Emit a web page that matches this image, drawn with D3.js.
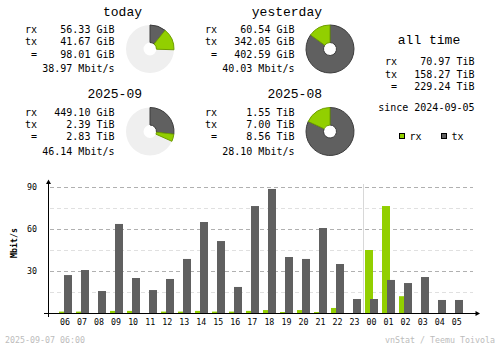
<!DOCTYPE html>
<html><head><meta charset="utf-8">
<script src="https://cdn.jsdelivr.net/npm/d3@7"></script>
<style>
html,body{margin:0;padding:0;background:#fff;}
svg{display:block;}
text{font-family:"DejaVu Sans Mono","Liberation Mono",monospace;}
text.title{font-family:"Liberation Mono","DejaVu Sans Mono",monospace;}
</style></head>
<body>
<svg id="chart" width="500" height="348"></svg>
<script>
// ---- data ----
const periods = ["today", "yesterday", "2025-09", "2025-08"];
const rxText = ["56.33 GiB", "60.54 GiB", "449.10 GiB", "1.55 TiB"];
const txText = ["41.67 GiB", "342.05 GiB", "2.39 TiB", "7.00 TiB"];
const totalText = ["98.01 GiB", "402.59 GiB", "2.83 TiB", "8.56 TiB"];
const rateText = ["38.97 Mbit/s", "40.03 Mbit/s", "46.14 Mbit/s", "28.10 Mbit/s"];
const rxGiB = [56.33, 60.54, 449.10, 1587.2];
const txGiB = [41.67, 342.05, 2447.36, 7168.0];
const pieFill = [0.255, 1, 0.317, 1];

const allTimeRx = "70.97 TiB";
const allTimeTx = "158.27 TiB";
const allTimeTotal = "229.24 TiB";
const sinceText = "since 2024-09-05";

const hours = ["06","07","08","09","10","11","12","13","14","15","16","17","18","19","20","21","22","23","00","01","02","03","04","05"];
const rxRate = [1, 1, 0, 1.5, 1.5, 0, 1, 1, 1.5, 1, 1, 1.5, 2.1, 0.7, 2.1, 0.7, 3.6, 0, 45, 76.4, 12, 0, 0, 0];
const txRate = [27.1, 30.7, 15.7, 63.6, 25, 16.4, 24.3, 38.6, 65, 51.4, 18.6, 76.4, 88.6, 40, 38.6, 60.7, 35, 10, 10, 23.6, 21.4, 25.7, 9.3, 9.3];
const yTicks = [30, 60, 90];
const yMinor = [15, 45, 75];
const footerLeft = "2025-09-07 06:00";
const footerRight = "vnStat / Teemu Toivola";

// ---- styles ----
const RX = "#92cf00", RXD = "#6f9e00", TX = "#606060", TXD = "#3c3c3c", PIEBG = "#efefef";

const svg = d3.select("#chart");

// ---- summary blocks ----
const blocks = [
  {x: 0, y: 0}, {x: 180, y: 0}, {x: 0, y: 82.5}, {x: 180, y: 82.5}
];
const pieCenters = [[150, 49], [330, 49], [150, 131.5], [330, 131.5]];
const arcGen = d3.arc().innerRadius(6.5).outerRadius(24);

periods.forEach((p, i) => {
  const b = blocks[i];
  const g = svg.append("g").attr("transform", `translate(${b.x},${b.y})`);
  g.append("text").attr("class", "title").attr("x", 142).attr("y", 15.5).attr("text-anchor", "end")
    .attr("font-size", 13).attr("fill", "#000").text(p);
  const rows = [["rx", rxText[i], 33], ["tx", txText[i], 45], ["=", totalText[i], 57.5]];
  rows.forEach(r => {
    g.append("text").attr("x", r[0] === "=" ? 31 : 25).attr("y", r[2]).attr("font-size", 10).text(r[0]);
    g.append("text").attr("x", 114.5).attr("y", r[2]).attr("text-anchor", "end").attr("font-size", 10).text(r[1]);
  });
  g.append("text").attr("x", 114.5).attr("y", 72).attr("text-anchor", "end").attr("font-size", 10).text(rateText[i]);

  // pie
  const [cx, cy] = pieCenters[i];
  const pg = svg.append("g").attr("transform", `translate(${cx},${cy})`);
  const fill = pieFill[i];
  if (fill < 1) {
    pg.append("path").attr("d", arcGen({startAngle: 0, endAngle: 2 * Math.PI})).attr("fill", PIEBG);
  }
  const tot = rxGiB[i] + txGiB[i];
  const full = 2 * Math.PI * fill;
  const txEnd = full * txGiB[i] / tot;
  pg.append("path").attr("d", arcGen({startAngle: 0, endAngle: txEnd}))
    .attr("fill", TX).attr("stroke", TXD).attr("stroke-width", 1);
  pg.append("path").attr("d", arcGen({startAngle: txEnd, endAngle: full}))
    .attr("fill", RX).attr("stroke", RXD).attr("stroke-width", 1);
});

// ---- all time ----
svg.append("text").attr("class", "title").attr("x", 429).attr("y", 43.5).attr("text-anchor", "middle").attr("font-size", 13).text("all time");
[["rx", allTimeRx, 65], ["tx", allTimeTx, 77.5], ["=", allTimeTotal, 90]].forEach(r => {
  svg.append("text").attr("x", r[0] === "=" ? 391 : 385).attr("y", r[2]).attr("font-size", 10).text(r[0]);
  svg.append("text").attr("x", 474.5).attr("y", r[2]).attr("text-anchor", "end").attr("font-size", 10).text(r[1]);
});
svg.append("text").attr("x", 474.5).attr("y", 111).attr("text-anchor", "end").attr("font-size", 10).text(sinceText);

// legend
const legend = [["rx", RX, 399], ["tx", TX, 441]];
legend.forEach(l => {
  svg.append("rect").attr("x", l[2] + 0.5).attr("y", 133.5).attr("width", 5).attr("height", 5)
    .attr("fill", l[1]).attr("stroke", "#000").attr("stroke-width", 1);
  svg.append("text").attr("x", l[2] + 10.5).attr("y", 139.5).attr("font-size", 10).text(l[0]);
});

// ---- hourly bar chart ----
const x = d3.scaleBand().domain(hours).range([56.5, 56.5 + 24 * 17.03]).paddingInner(0).paddingOuter(0);
const y = d3.scaleLinear().domain([0, 90]).range([313, 187]);

const gridG = svg.append("g");
yMinor.forEach(v => {
  gridG.append("line").attr("x1", 50).attr("x2", 473).attr("y1", Math.round(y(v)) + 0.5).attr("y2", Math.round(y(v)) + 0.5)
    .attr("stroke", "#e0e0e0").attr("stroke-dasharray", "4,3");
});
yTicks.forEach(v => {
  gridG.append("line").attr("x1", 50).attr("x2", 473).attr("y1", Math.round(y(v)) + 0.5).attr("y2", Math.round(y(v)) + 0.5)
    .attr("stroke", "#b0b0b0").attr("stroke-dasharray", "4,3");
});

// separator between days
svg.append("line").attr("x1", Math.round(x("00")) + 0.5).attr("x2", Math.round(x("00")) + 0.5)
  .attr("y1", 184).attr("y2", 313).attr("stroke", "#d8d8d8");

// bars
svg.append("g").selectAll("rect").data(hours).join("rect")
  .attr("x", d => Math.round(x(d) + 2)).attr("width", 8)
  .attr("y", (d, i) => y(rxRate[i])).attr("height", (d, i) => y(0) - y(rxRate[i]))
  .attr("fill", RX);
svg.append("g").selectAll("rect").data(hours).join("rect")
  .attr("x", d => Math.round(x(d) + 7)).attr("width", 8)
  .attr("y", (d, i) => y(txRate[i])).attr("height", (d, i) => y(0) - y(txRate[i]))
  .attr("fill", TX);

// axes
svg.append("line").attr("x1", 48.5).attr("x2", 48.5).attr("y1", 182).attr("y2", 317).attr("stroke", "#000");
svg.append("line").attr("x1", 44).attr("x2", 477).attr("y1", 313.5).attr("y2", 313.5).attr("stroke", "#000");
svg.append("path").attr("d", "M48.5,179.5 L46,184 L51,184 Z").attr("fill", "#000");
svg.append("path").attr("d", "M480,313.5 L475.5,311 L475.5,316 Z").attr("fill", "#000");

// y labels
yTicks.forEach(v => {
  svg.append("text").attr("x", 37).attr("y", y(v) + 3).attr("text-anchor", "end").attr("font-size", 8.3).text(v);
});
svg.append("text").attr("transform", "translate(16.5,243) rotate(-90)").attr("text-anchor", "middle")
  .attr("font-size", 8.3).attr("font-weight", "bold").text("Mbit/s");

// x labels
svg.append("g").selectAll("text").data(hours).join("text")
  .attr("x", d => x(d) + x.bandwidth() / 2).attr("y", 324.5).attr("text-anchor", "middle")
  .attr("font-size", 8.3).text(d => d);

// footer
svg.append("text").attr("x", 5).attr("y", 343).attr("font-size", 8.3).attr("fill", "#bcbcbc").text(footerLeft);
svg.append("text").attr("x", 495).attr("y", 343).attr("text-anchor", "end").attr("font-size", 8.3).attr("fill", "#bcbcbc").text(footerRight);
</script>
</body></html>
